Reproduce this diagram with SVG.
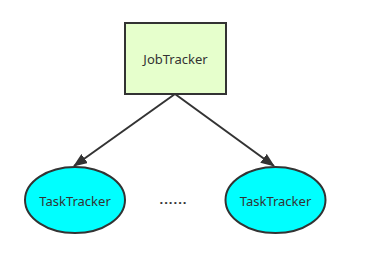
<svg xmlns="http://www.w3.org/2000/svg" width="377" height="258" viewBox="0 0 377 258">
  <style>
    .lbl { font-family: "Noto Sans", "DejaVu Sans", sans-serif; font-size: 13px; fill: #333333; text-anchor: middle; dominant-baseline: central; }
    .edge { stroke: #333333; stroke-width: 2; fill: none; }
    .task { fill: #00ffff; stroke: #333333; stroke-width: 2; }
  </style>
  <defs>
    <marker id="arrow" viewBox="0 0 14 11" refX="13" refY="5.5" markerWidth="14" markerHeight="11" markerUnits="userSpaceOnUse" orient="auto">
      <path d="M0,0 L14,5.5 L0,11 Z" fill="#333333"/>
    </marker>
  </defs>
  <rect width="377" height="258" fill="#ffffff"/>
  <g id="connectors">
    <line class="edge" x1="175" y1="94" x2="74" y2="166" marker-end="url(#arrow)"/>
    <line class="edge" x1="175" y1="94" x2="274" y2="166" marker-end="url(#arrow)"/>
  </g>
  <g id="jobtracker">
    <rect x="125" y="23" width="101" height="71" fill="#e6ffcc" stroke="#333333" stroke-width="2"/>
    <text class="lbl" x="175.5" y="59">JobTracker</text>
  </g>
  <g id="tasktracker-1">
    <ellipse class="task" cx="75" cy="200" rx="50" ry="33"/>
    <text class="lbl" x="75" y="201">TaskTracker</text>
  </g>
  <g id="ellipsis">
    <text class="lbl" x="173.5" y="199" style="font-weight:bold;letter-spacing:1px">......</text>
  </g>
  <g id="tasktracker-2">
    <ellipse class="task" cx="275.5" cy="200" rx="50" ry="33"/>
    <text class="lbl" x="275.5" y="201">TaskTracker</text>
  </g>
</svg>
